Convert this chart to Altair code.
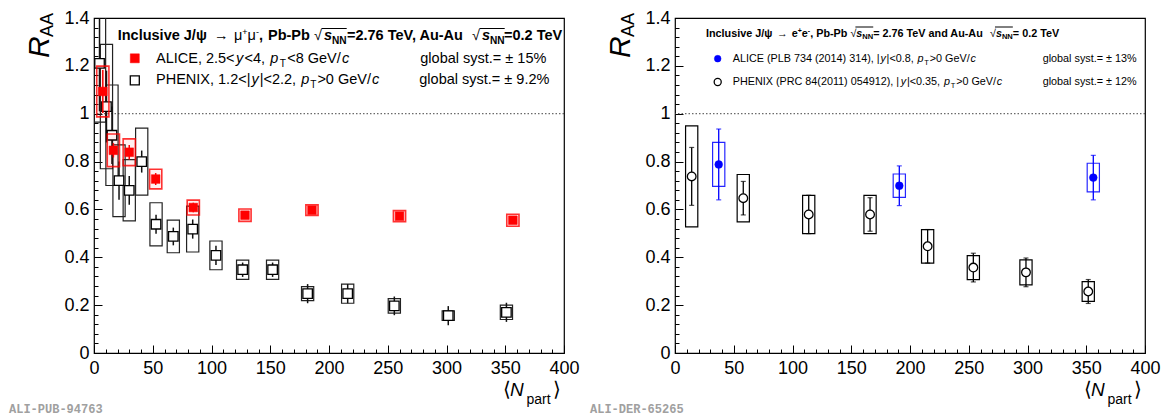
import altair as alt
import pandas as pd
import numpy as np

# ---------------- data ----------------
# Left panel: forward rapidity
alice_fwd_npart = [7.5, 16.5, 30.0, 52.5, 84.5, 128.5, 185.5, 260.0, 356.5]
alice_fwd_raa = [1.093, 0.847, 0.839, 0.727, 0.608, 0.576, 0.597, 0.572, 0.555]
alice_fwd_stat = [0.09, 0.03, 0.03, 0.025, 0.02, 0.012, 0.01, 0.01, 0.01]
alice_fwd_syst = [0.106, 0.068, 0.056, 0.041, 0.031, 0.026, 0.022, 0.023, 0.025]

phenix_fwd_npart = [4.7, 10.6, 15.3, 21.3, 30.0, 40.6, 52.8, 67.5, 84.0, 103.8,
                    126.5, 152.0, 181.8, 215.9, 255.6, 301.5, 351.0]
phenix_fwd_raa = [1.21, 1.03, 0.91, 0.72, 0.68, 0.80, 0.538, 0.487, 0.518, 0.408,
                  0.348, 0.348, 0.248, 0.248, 0.197, 0.156, 0.17]
phenix_fwd_stat = [0.2, 0.15, 0.12, 0.08, 0.06, 0.046, 0.04, 0.037, 0.04, 0.04,
                   0.03, 0.03, 0.04, 0.04, 0.039, 0.04, 0.04]
phenix_fwd_syst = [0.245, 0.26, 0.21, 0.15, 0.128, 0.14, 0.09, 0.068, 0.096, 0.06,
                   0.04, 0.04, 0.029, 0.04, 0.03, 0.02, 0.03]

# Right panel: mid rapidity
alice_mid_npart = [37.2, 190.9, 356.0]
alice_mid_raa = [0.788, 0.699, 0.733]
alice_mid_stat = [0.148, 0.083, 0.093]
alice_mid_syst = [0.092, 0.049, 0.06]

phenix_mid_npart = [14.2, 58.1, 113.8, 166.0, 215.0, 253.9, 298.7, 351.7]
phenix_mid_raa = [0.738, 0.647, 0.579, 0.579, 0.446, 0.357, 0.337, 0.257]
phenix_mid_stat = [0.121, 0.07, 0.08, 0.07, 0.07, 0.06, 0.06, 0.05]
phenix_mid_syst = [0.211, 0.099, 0.08, 0.08, 0.07, 0.05, 0.052, 0.041]

x_major = list(range(0, 401, 50))
x_minor = [v for v in range(0, 401, 10) if v % 50]
y_major = [round(v, 2) for v in np.arange(0, 1.41, 0.2)]
y_minor = [round(v, 2) for v in np.arange(0.04, 1.4, 0.04) if abs(round(v / 0.2) * 0.2 - v) > 1e-6]

FONT = "Liberation Sans"
W, H = 470, 335
HALF_W = 5.2  # half width of systematic boxes in Npart units

XS = alt.Scale(domain=[0, 400], nice=False, zero=False)
YS = alt.Scale(domain=[0, 1.4], nice=False, zero=False)

# ---------------- text width helper (Arial metrics) ----------------
RW = {' ': 278, '%': 889, '(': 333, ')': 333, '+': 584, ',': 278, '-': 333, '.': 278,
      '/': 278, '<': 584, '=': 584, '>': 584, '|': 260, '±': 584, 'μ': 576, 'ψ': 713,
      '→': 1000, '√': 549,
      'A': 667, 'B': 667, 'C': 722, 'D': 722, 'E': 667, 'F': 611, 'G': 778, 'H': 722,
      'I': 278, 'J': 500, 'K': 667, 'L': 556, 'M': 833, 'N': 722, 'O': 778, 'P': 667,
      'Q': 778, 'R': 722, 'S': 667, 'T': 611, 'U': 722, 'V': 667, 'W': 944, 'X': 667,
      'Y': 667, 'Z': 611,
      'a': 556, 'b': 556, 'c': 500, 'd': 556, 'e': 556, 'f': 278, 'g': 556, 'h': 556,
      'i': 222, 'j': 222, 'k': 500, 'l': 222, 'm': 833, 'n': 556, 'o': 556, 'p': 556,
      'q': 556, 'r': 333, 's': 500, 't': 278, 'u': 556, 'v': 500, 'w': 722, 'x': 500,
      'y': 500, 'z': 500}
BW = dict(RW)
BW.update({'|': 280, 'A': 722, 'B': 722, 'J': 556, 'K': 722, 'L': 611,
           'a': 556, 'b': 611, 'c': 556, 'd': 611, 'e': 556, 'f': 333, 'g': 611, 'h': 611,
           'i': 278, 'j': 278, 'k': 556, 'l': 278, 'm': 889, 'n': 611, 'o': 611, 'p': 611,
           'q': 611, 'r': 389, 's': 556, 't': 333, 'u': 611, 'v': 556, 'w': 778, 'x': 556,
           'y': 556, 'z': 500})
for d in '0123456789':
    RW[d] = 556
    BW[d] = 556


def tw(s, size, bold):
    tab = BW if bold else RW
    return sum(tab.get(c, 556) for c in s) * size / 1000.0


def chain(rows, x0, y0, size, parts, gap=0.0, color='black'):
    x = x0
    for p in parts:
        t, st = p[0], p[1]
        sc = p[2] if len(p) > 2 else 1.0
        dy = p[3] if len(p) > 3 else 0.0
        bold = 'b' in st
        ital = 'i' in st
        fs = size * sc
        rows.append(dict(t=t, x=x, y=y0 + dy, size=fs,
                         weight='bold' if bold else 'normal',
                         style='italic' if ital else 'normal', color=color))
        x += tw(t, fs, bold) + gap
    return x


def text_layers(rows, angle=0, font=FONT):
    df = pd.DataFrame(rows)
    out = []
    for (wt, st), sub in df.groupby(['weight', 'style']):
        out.append(
            alt.Chart(sub).mark_text(align='left', baseline='alphabetic', font=font,
                                     fontWeight=wt, fontStyle=st, angle=angle)
            .encode(x=alt.X('x:Q', scale=None, axis=None),
                    y=alt.Y('y:Q', scale=None, axis=None),
                    size=alt.Size('size:Q', scale=None, legend=None),
                    color=alt.Color('color:N', scale=None, legend=None),
                    text='t:N'))
    return out


# ---------------- axes ----------------
def main_x():
    return alt.Axis(values=x_major, format='d', ticks=False, tickSize=0, labelPadding=6,
                    domain=False, grid=False, title=None, labelFontSize=18, labelFont=FONT,
                    labelColor='black', orient='bottom', labelFlush=False, labelOverlap=False)


def main_y():
    return alt.Axis(values=y_major, format='~g', ticks=False, tickSize=0, labelPadding=5,
                    domain=False, grid=False, title=None, labelFontSize=18, labelFont=FONT,
                    labelColor='black', orient='left', labelFlush=False, labelOverlap=False)


def tick_x(values, L):
    return alt.Axis(values=values, labels=False, ticks=True, tickSize=L, offset=-L,
                    domain=False, grid=False, title=None, orient='bottom',
                    tickColor='black', tickWidth=1)


def tick_y(values, L):
    return alt.Axis(values=values, labels=False, ticks=True, tickSize=L, offset=-L,
                    domain=False, grid=False, title=None, orient='left',
                    tickColor='black', tickWidth=1)


def frame(n, r, s, e):
    return pd.DataFrame({'n': n, 'r': r, 'st': s, 'sy': e})


def boxes(df, stroke, sw, fill='white', fill_op=0.0, ax=None, ay=None, sop=1.0):
    return alt.Chart(df).transform_calculate(
        xl='datum.n - %g' % HALF_W, xh='datum.n + %g' % HALF_W,
        yl='datum.r - datum.sy', yh='datum.r + datum.sy'
    ).mark_rect(clip=True, stroke=stroke, strokeWidth=sw, fill=fill, fillOpacity=fill_op,
                strokeOpacity=sop).encode(
        x=alt.X('xl:Q', scale=XS, axis=ax), x2='xh:Q',
        y=alt.Y('yl:Q', scale=YS, axis=ay), y2='yh:Q')


def bars(df, color, sw, ax=None, ay=None):
    return alt.Chart(df).transform_calculate(
        yl='datum.r - datum.st', yh='datum.r + datum.st'
    ).mark_rule(clip=True, color=color, strokeWidth=sw).encode(
        x=alt.X('n:Q', scale=XS, axis=ax),
        y=alt.Y('yl:Q', scale=YS, axis=ay), y2='yh:Q')


def caps(df, color, field_sign):
    expr = 'datum.r %s datum.st' % field_sign
    return alt.Chart(df).transform_calculate(yy=expr).mark_tick(
        clip=True, orient='horizontal', size=5, thickness=1.2, color=color).encode(
        x=alt.X('n:Q', scale=XS, axis=None),
        y=alt.Y('yy:Q', scale=YS, axis=None))


def markers(df, shape, size, fill, stroke, sw, ax=None, ay=None):
    return alt.Chart(df).mark_point(clip=True, shape=shape, size=size, filled=True,
                                    fill=fill, stroke=stroke, strokeWidth=sw,
                                    opacity=1).encode(
        x=alt.X('n:Q', scale=XS, axis=ax),
        y=alt.Y('r:Q', scale=YS, axis=ay))


def unity_line():
    return alt.Chart(pd.DataFrame({'v': [1.0]})).mark_rule(
        color='#444444', strokeDash=[1.5, 2], strokeWidth=1).encode(
        y=alt.Y('v:Q', scale=YS, axis=None))


def legend_marker(x, y, shape, size, fill, stroke, sw):
    return alt.Chart(pd.DataFrame({'x': [x], 'y': [y]})).mark_point(
        shape=shape, size=size, filled=True, fill=fill, stroke=stroke, strokeWidth=sw,
        opacity=1).encode(x=alt.X('x:Q', scale=None, axis=None),
                          y=alt.Y('y:Q', scale=None, axis=None))


def hline(x1, x2, y):
    return alt.Chart(pd.DataFrame({'x1': [x1], 'x2': [x2], 'y': [y]})).mark_rule(
        color='black', strokeWidth=1).encode(
        x=alt.X('x1:Q', scale=None, axis=None), x2='x2:Q',
        y=alt.Y('y:Q', scale=None, axis=None))


def common_titles(ali_label):
    layers = []
    # R_AA (rotated)
    layers += text_layers([dict(t='R', x=-45, y=40, size=30, weight='normal', style='italic', color='black'),
                           dict(t='AA', x=-41, y=19, size=18, weight='normal', style='normal', color='black')],
                          angle=270)
    # <N_part>
    rows = [dict(t='⟨', x=409, y=H + 43, size=20, weight='normal', style='normal', color='black'),
            dict(t='N', x=416, y=H + 43, size=19, weight='normal', style='italic', color='black'),
            dict(t='part', x=432.5, y=H + 51, size=14, weight='normal', style='normal', color='black'),
            dict(t='⟩', x=459, y=H + 43, size=20, weight='normal', style='normal', color='black')]
    layers += text_layers(rows)
    layers += text_layers([dict(t=ali_label, x=-85, y=H + 60, size=12, weight='bold', style='normal',
                                color='#a0a0a0')], font='Liberation Mono')
    return layers


# ---------------- left panel ----------------
alice_f = frame(alice_fwd_npart, alice_fwd_raa, alice_fwd_stat, alice_fwd_syst)
phenix_f = frame(phenix_fwd_npart, phenix_fwd_raa, phenix_fwd_stat, phenix_fwd_syst)

L = [unity_line(),
     boxes(phenix_f, '#222222', 1.2, ax=main_x(), ay=main_y()),
     bars(phenix_f, '#111111', 1.5, ax=tick_x(x_major, 8), ay=tick_y(y_major, 8)),
     markers(phenix_f, 'square', 90, 'white', 'black', 1.3, ax=tick_x(x_minor, 4), ay=tick_y(y_minor, 4)),
     boxes(alice_f, '#ff0000', 1.6, fill='#ff0000', fill_op=0.06, sop=0.8),
     bars(alice_f, '#ff0000', 1.5),
     markers(alice_f, 'square', 75, '#ff0000', '#ff0000', 0.5)]

rows = []
hy = 22.3
chain(rows, 23.7, hy, 14.5, [('Inclusive J/ψ', 'b')])
chain(rows, 120, hy, 14.5, [('→', 'r')])
chain(rows, 140, hy, 14.5, [('μ', 'r'), ('+', 'r', 0.62, -5.5), ('μ', 'r'), ('-', 'r', 0.62, -5.5), (',', 'b')])
chain(rows, 174, hy, 14.5, [('Pb-Pb', 'b')])
chain(rows, 220, hy, 14.5, [('√', 'r')])
e1 = chain(rows, 230, hy, 14.5, [('s', 'bi'), ('NN', 'b', 0.7, 3.5)])
chain(rows, 253, hy, 14.5, [('=2.76 TeV, Au-Au', 'b')])
chain(rows, 378, hy, 14.5, [('√', 'r')])
e2 = chain(rows, 388, hy, 14.5, [('s', 'bi'), ('NN', 'b', 0.7, 3.5)])
chain(rows, 410, hy, 14.5, [('=0.2 TeV', 'b')])

y2 = 44.7
chain(rows, 62, y2, 14.5, [('ALICE, 2.5<', 'r'), ('y', 'i'), ('<4, ', 'r'), ('p', 'i'),
                           ('T', 'r', 0.7, 4), ('<8 GeV/', 'r'), ('c', 'i')], gap=1.3)
chain(rows, 326.3, y2, 14.5, [('global syst.= ± 15%', 'r')])
y3 = 66.3
chain(rows, 62, y3, 14.5, [('PHENIX, 1.2<|', 'r'), ('y', 'i'), ('|<2.2, ', 'r'), ('p', 'i'),
                           ('T', 'r', 0.7, 4), ('>0 GeV/', 'r'), ('c', 'i')], gap=1.0)
chain(rows, 325.3, y3, 14.5, [('global syst.= ± 9.2%', 'r')])

L += text_layers(rows)
L += [hline(227.5, e1, 10.5), hline(385.5, e2, 10.5),
      legend_marker(40.8, 40.3, 'square', 81, '#ff0000', '#ff0000', 0.5),
      legend_marker(40.8, 62.3, 'square', 81, 'white', 'black', 1.3)]
L += common_titles('ALI-PUB-94763')

left = alt.layer(*L).resolve_axis(x='independent', y='independent').properties(width=W, height=H)

# ---------------- right panel ----------------
alice_m = frame(alice_mid_npart, alice_mid_raa, alice_mid_stat, alice_mid_syst)
phenix_m = frame(phenix_mid_npart, phenix_mid_raa, phenix_mid_stat, phenix_mid_syst)

R = [unity_line(),
     boxes(phenix_m, 'black', 1.2, ax=main_x(), ay=main_y()),
     bars(phenix_m, 'black', 1.3, ax=tick_x(x_major, 8), ay=tick_y(y_major, 8)),
     caps(phenix_m, 'black', '-'), caps(phenix_m, 'black', '+'),
     markers(phenix_m, 'circle', 75, 'white', 'black', 1.3, ax=tick_x(x_minor, 4), ay=tick_y(y_minor, 4)),
     boxes(alice_m, '#0000ff', 1.2, sop=0.85),
     bars(alice_m, '#0000ff', 1.3),
     caps(alice_m, '#0000ff', '-'), caps(alice_m, '#0000ff', '+'),
     markers(alice_m, 'circle', 60, '#0000ff', '#0000ff', 0.5)]

rows = []
ry = 18.5
RS = 10.8
x = chain(rows, 31, ry, RS, [('Inclusive J/ψ ', 'b')])
x = chain(rows, x + 2, ry, RS, [('→', 'r')])
x = chain(rows, x + 4, ry, RS, [('e', 'b'), ('+', 'b', 0.65, -4), ('e', 'b'), ('-', 'b', 0.65, -4),
                                (', Pb-Pb ', 'b')])
sq1 = x
x = chain(rows, x, ry, RS, [('√', 'r')])
x = chain(rows, x, ry, RS, [('s', 'bi'), ('NN', 'b', 0.7, 2.5)])
e1 = x
x = chain(rows, x, ry, RS, [(' = 2.76 TeV and Au-Au ', 'b')])
sq2 = x
x = chain(rows, x, ry, RS, [('√', 'r')])
x = chain(rows, x, ry, RS, [('s', 'bi'), ('NN', 'b', 0.7, 2.5)])
e2 = x
chain(rows, x, ry, RS, [(' = 0.2 TeV', 'b')])

chain(rows, 57.7, 44, RS, [('ALICE (PLB 734 (2014) 314), |', 'r'), ('y', 'i'), ('|<0.8, ', 'r'), ('p', 'i'),
                           ('T', 'r', 0.7, 3), ('>0 GeV/', 'r'), ('c', 'i')], gap=0.8)
chain(rows, 367.7, 44, RS, [('global syst.= ± 13%', 'r')])
chain(rows, 57.7, 67.3, RS, [('PHENIX (PRC 84(2011) 054912), |', 'r'), ('y', 'i'), ('|<0.35, ', 'r'), ('p', 'i'),
                             ('T', 'r', 0.7, 3), ('>0 GeV/', 'r'), ('c', 'i')], gap=0.8)
chain(rows, 367.7, 67.3, RS, [('global syst.= ± 12%', 'r')])

R += text_layers(rows)
R += [hline(sq1 + 5, e1, 9.0), hline(sq2 + 5, e2, 9.0),
      legend_marker(42.7, 40.7, 'circle', 45, '#0000ff', '#0000ff', 0.5),
      legend_marker(42.7, 64.0, 'circle', 50, 'white', 'black', 1.3)]
R += common_titles('ALI-DER-65265')

right = alt.layer(*R).resolve_axis(x='independent', y='independent').properties(width=W, height=H)

chart = alt.hconcat(left, right, spacing=111, bounds='flush', padding=0,
                    background='white').configure_view(stroke='black', strokeWidth=1.2)

chart.save("out.html", embed_options={"renderer": "svg", "actions": False})
